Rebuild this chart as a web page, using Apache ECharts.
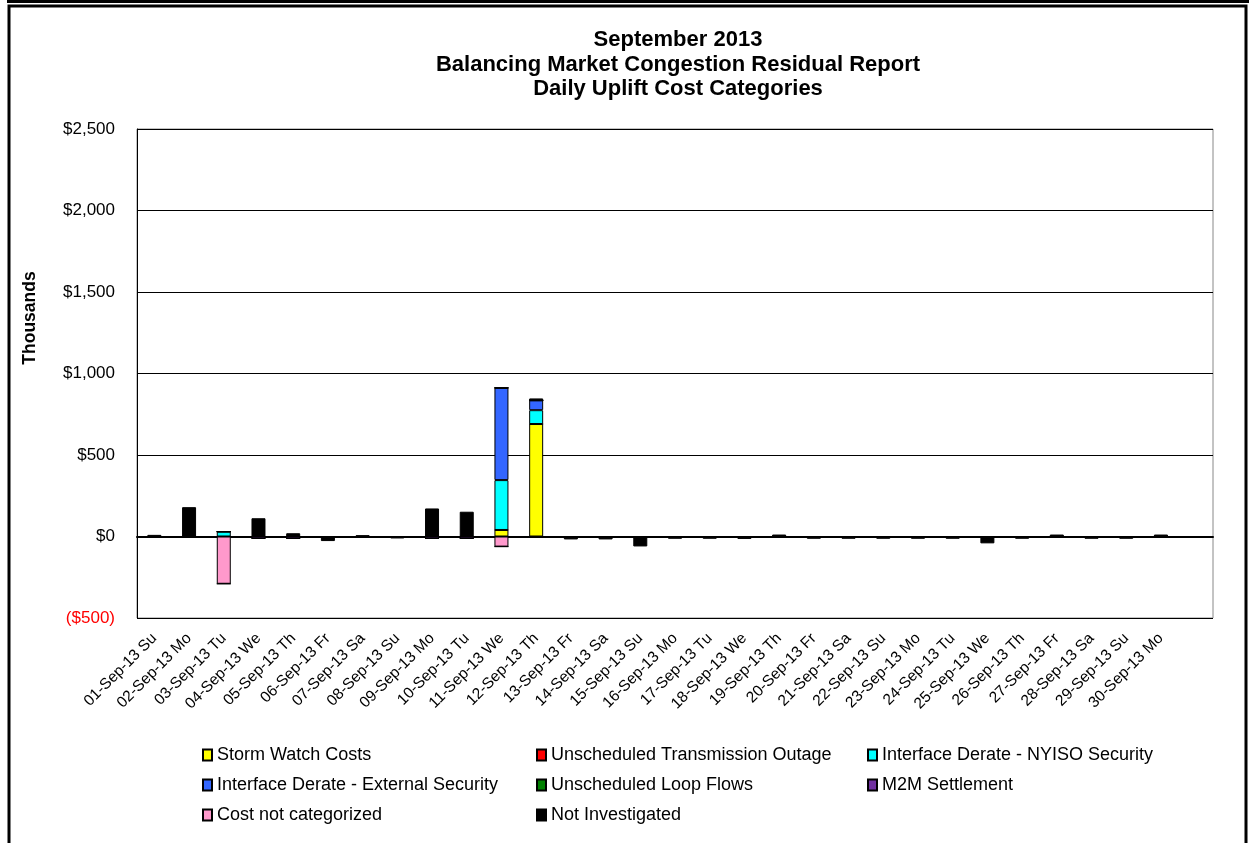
<!DOCTYPE html>
<html>
<head>
<meta charset="utf-8">
<script src="https://cdn.jsdelivr.net/npm/echarts@6/dist/echarts.min.js"></script>
<style>
html,body{margin:0;padding:0;background:#fff;}
#c{width:1249px;height:843px;}
</style>
</head>
<body>
<div id="c"></div>
<script>
const categories = ['01-Sep-13 Su','02-Sep-13 Mo','03-Sep-13 Tu','04-Sep-13 We','05-Sep-13 Th','06-Sep-13 Fr','07-Sep-13 Sa','08-Sep-13 Su','09-Sep-13 Mo','10-Sep-13 Tu','11-Sep-13 We','12-Sep-13 Th','13-Sep-13 Fr','14-Sep-13 Sa','15-Sep-13 Su','16-Sep-13 Mo','17-Sep-13 Tu','18-Sep-13 We','19-Sep-13 Th','20-Sep-13 Fr','21-Sep-13 Sa','22-Sep-13 Su','23-Sep-13 Mo','24-Sep-13 Tu','25-Sep-13 We','26-Sep-13 Th','27-Sep-13 Fr','28-Sep-13 Sa','29-Sep-13 Su','30-Sep-13 Mo',''];
const stormWatch   = [0,0,0,0,0,0,0,0,0,0,40,690,0,0,0,0,0,0,0,0,0,0,0,0,0,0,0,0,0,0,null];
const unschedTrans = [0,0,0,0,0,0,0,0,0,0,0,0,0,0,0,0,0,0,0,0,0,0,0,0,0,0,0,0,0,0,null];
const nyisoSec     = [0,0,30,0,0,0,0,0,0,0,306,85,0,0,0,0,0,0,0,0,0,0,0,0,0,0,0,0,0,0,null];
const externalSec  = [0,0,0,0,0,0,0,0,0,0,566,60,0,0,0,0,0,0,0,0,0,0,0,0,0,0,0,0,0,0,null];
const loopFlows    = [0,0,0,0,0,0,0,0,0,0,0,0,0,0,0,0,0,0,0,0,0,0,0,0,0,0,0,0,0,0,null];
const m2m          = [0,0,0,-12,-12,0,0,0,-12,-12,0,0,0,0,-6,0,0,0,0,0,0,0,0,0,0,0,0,0,0,0,null];
const notCat       = [0,0,-290,0,0,0,0,0,0,0,-62,0,0,0,0,0,0,0,0,0,0,0,0,0,0,0,0,0,0,0,null];
const notInv       = [10,180,0,112,20,-28,8,-12,172,152,0,12,-18,-18,-55,-14,-14,-15,12,-14,-14,-14,-14,-14,-42,-14,12,-14,-14,12,null];
const yTicks = {min:-500, max:2500, interval:500};

const seriesDefs = [
  ['Storm Watch Costs', stormWatch, '#FFFF00'],
  ['Unscheduled Transmission Outage', unschedTrans, '#FF0000'],
  ['Interface Derate - NYISO Security', nyisoSec, '#00FFFF'],
  ['Interface Derate - External Security', externalSec, '#3366FF'],
  ['Unscheduled Loop Flows', loopFlows, '#008000'],
  ['M2M Settlement', m2m, '#7030A0'],
  ['Cost not categorized', notCat, '#FF99CC'],
  ['Not Investigated', notInv, '#000000']
];
// legend cell positions [name, left, top]
const legendCells = [
  ['Storm Watch Costs', 202, 746],
  ['Unscheduled Transmission Outage', 536, 746],
  ['Interface Derate - NYISO Security', 867, 746],
  ['Interface Derate - External Security', 202, 776],
  ['Unscheduled Loop Flows', 536, 776],
  ['M2M Settlement', 867, 776],
  ['Cost not categorized', 202, 806],
  ['Not Investigated', 536, 806]
];

const chart = echarts.init(document.getElementById('c'), null, {renderer:'canvas'});
const font = 'Arial, "Liberation Sans", sans-serif';
chart.setOption({
  animation:false,
  backgroundColor:'#fff',
  title:{
    text:'September 2013\nBalancing Market Congestion Residual Report\nDaily Uplift Cost Categories',
    left:673, textAlign:'center', top:23,
    textStyle:{fontFamily:font, fontSize:22, fontWeight:'bold', color:'#000', lineHeight:24.5}
  },
  legend: legendCells.map(function(c){
    return {
      left:c[1], top:c[2], padding:0, icon:'rect', itemWidth:9, itemHeight:11,
      data:[c[0]], selectedMode:false,
      textStyle:{fontFamily:font, fontSize:18, color:'#000'}
    };
  }),
  grid:{left:137, right:36, top:129, bottom:225, show:true, borderColor:'#888', borderWidth:1, containLabel:false},
  xAxis:{
    type:'category', data:categories,
    axisLine:{onZero:true, lineStyle:{color:'#000', width:2}},
    axisTick:{show:false},
    axisLabel:{interval:0, rotate:45, fontFamily:font, fontSize:15.5, color:'#000', margin:18}
  },
  yAxis:{
    type:'value', min:yTicks.min, max:yTicks.max, interval:yTicks.interval,
    axisLine:{show:true, lineStyle:{color:'#000', width:1}},
    axisTick:{show:false},
    splitLine:{lineStyle:{color:'#000', width:1}},
    axisLabel:{
      fontFamily:font, fontSize:17, margin:22,
      color:function(v){ return Number(v) < 0 ? '#FF0000' : '#000'; },
      formatter:function(v){
        const s = '$' + Math.abs(v).toLocaleString('en-US');
        return v < 0 ? '(' + s + ')' : s;
      }
    }
  },
  graphic:[
    {type:'rect', shape:{x:7,y:0,width:1242,height:3}, style:{fill:'#000'}},
    {type:'rect', shape:{x:9,y:6,width:1237,height:860}, style:{fill:'none', stroke:'#000', lineWidth:3}},
    {type:'text', x:30, y:318, rotation:Math.PI/2,
     style:{text:'Thousands', fontFamily:font, fontSize:17.5, fontWeight:'bold', fill:'#000', align:'center', verticalAlign:'middle'}}
  ],
  series: seriesDefs.map(function(d){
    return {
      name:d[0], type:'bar', stack:'total', data:d[1], barWidth:14,
      itemStyle:{color:d[2], borderColor:'#000', borderWidth:1}
    };
  })
});
</script>
</body>
</html>
